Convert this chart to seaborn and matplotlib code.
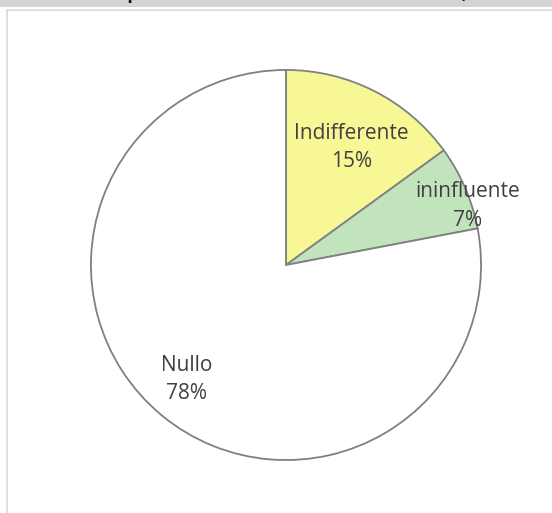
import matplotlib
matplotlib.use("Agg")
import matplotlib.pyplot as plt
import seaborn as sns
import numpy as np
from matplotlib.patches import Rectangle
from matplotlib.lines import Line2D

categories = ["Indifferente", "ininfluente", "Nullo"]
values = [15, 7, 78]
colors = ["#F8F796", "#C2E4BC", "#FFFFFF"]
label_dist = [0.69, 0.98, 0.78]
label_angle_shift = [-2.2, -5.4, -1.4]

sns.set_theme(style="white")
plt.rcParams['font.family'] = ['Open Sans', 'DejaVu Sans']

W, H = 552, 513
fig = plt.figure(figsize=(W / 100, H / 100), dpi=100)
fig.patch.set_facecolor("white")

# header band (cropped at the top edge, as in the reference)
fig.add_artist(Rectangle((0, 1 - 7 / H), 1, 7 / H, transform=fig.transFigure,
                         facecolor="#D4D4D4", edgecolor="none"))
fig.text(30 / W, 1 + 1 / H, "Totale complessivo", fontsize=13, fontweight="bold",
         color="#111111", ha="left", va="baseline")
fig.text(505 / W, 1 + 1 / H, "100,00%", fontsize=13, fontweight="bold",
         color="#111111", ha="right", va="baseline")
# chart area border
fig.add_artist(Line2D([6.5 / W, 1], [1 - 9.5 / H, 1 - 9.5 / H], transform=fig.transFigure,
                      color="#D9D9D9", lw=1.2))
fig.add_artist(Line2D([6.5 / W, 6.5 / W], [0, 1 - 9.5 / H], transform=fig.transFigure,
                      color="#D9D9D9", lw=1.2))

cx, cy, r = 286, 265, 197
ax = fig.add_axes([(cx - r) / W, (H - cy - r) / H, 2 * r / W, 2 * r / H])
wedges, _ = ax.pie(values, colors=colors, startangle=90, counterclock=False,
                   radius=1, wedgeprops=dict(edgecolor="#808080", linewidth=1.3))
ax.set_xlim(-1.01, 1.01)
ax.set_ylim(-1.01, 1.01)
ax.set_aspect("auto")
ax.axis("off")

for w, name, v, d, s in zip(wedges, categories, values, label_dist, label_angle_shift):
    mid = np.deg2rad((w.theta1 + w.theta2) / 2 + s)
    ax.text(d * np.cos(mid), d * np.sin(mid), f"{name}\n{v}%", ha="center", va="center",
            fontsize=15, color="#404040", linespacing=1.45)

fig.savefig("out.png", dpi=100)
